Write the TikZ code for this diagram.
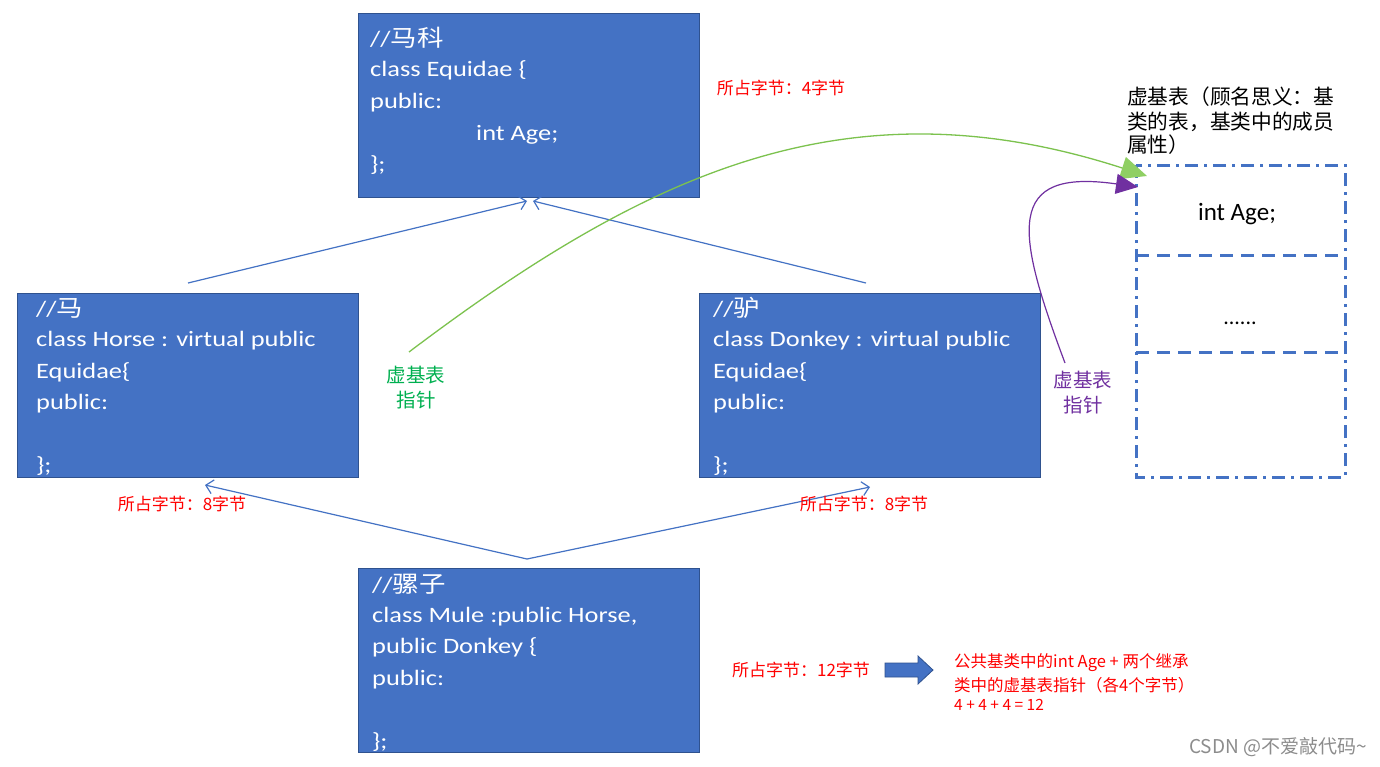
\documentclass[tikz,border=0pt]{standalone}
\usepackage{fontspec}
\setmainfont{Carlito}
\newfontfamily\cjk{Noto Sans CJK SC}
\newfontfamily\bx{Carlito}[FakeStretch=1.2]
\newfontfamily\bxc{Noto Sans CJK SC}[FakeStretch=1.15]
\usetikzlibrary{arrows.meta}
\definecolor{boxblue}{HTML}{4472C4}
\definecolor{boxedge}{HTML}{2F528F}
\definecolor{lblred}{HTML}{FF0000}
\definecolor{lblgreen}{HTML}{00B050}
\definecolor{crvgreen}{HTML}{7CC24E}
\definecolor{headgreen}{HTML}{8FCF63}
\definecolor{lblpurple}{HTML}{7030A0}
\definecolor{wmgray}{HTML}{8C8C8C}
\tikzset{
  classbox/.style={draw=boxedge, line width=1pt, fill=boxblue},
  code/.style={anchor=base west, inner sep=0pt, text=white, font=\bx\fontsize{22}{22}\selectfont},
  inherit/.style={draw=boxblue, line width=1.2pt, -{Straight Barb[length=7pt,width=14pt,line width=1.2pt]}},
  redlbl/.style={inner sep=0pt, text=lblred, font=\cjk\fontsize{17}{17}\selectfont},
  redsmall/.style={anchor=west, inner sep=0pt, text=lblred, font=\cjk\fontsize{16.5}{16.5}\selectfont},
  ptrlbl/.style={inner sep=0pt, font=\cjk\fontsize{19.5}{25}\selectfont},
  titlelbl/.style={anchor=base west, inner sep=0pt, text=black, font=\cjk\fontsize{20.7}{20.7}\selectfont},
  tabouter/.style={draw=boxblue, line width=3pt, dash pattern=on 13pt off 6pt on 3pt off 6pt},
  tabinner/.style={draw=boxblue, line width=3pt, dash pattern=on 13pt off 8pt},
}
\begin{document}
\begin{tikzpicture}[x=1pt,y=-1pt]
\useasboundingbox (0,0) rectangle (1380,766);
\fill[white] (0,0) rectangle (1380,766);

% class boxes
\draw[classbox] (358,13) rectangle (699,197);
\draw[classbox] (17,293) rectangle (358,477);
\draw[classbox] (699,293) rectangle (1040,477);
\draw[classbox] (358,568) rectangle (699,752);

% Equidae text
\node[code] (e1) at (370,46) {//{\bxc\fontsize{23}{23}\selectfont 马科}};
\node[code] (e2) at (370,76) {class Equidae \{};
\node[code] (e3) at (370,108) {public:};
\node[code] (e4) at (476,140) {int Age;};
\node[code] (e5) at (370,171) {\};};

% Horse text
\node[code] (h1) at (36,316) {//{\bxc\fontsize{23}{23}\selectfont 马}};
\node[code] (h2) at (36,346) {class Horse : virtual public};
\node[code] (h3) at (36,378) {Equidae\{};
\node[code] (h4) at (36,409) {public:};
\node[code] (h5) at (36,472) {\};};

% Donkey text
\node[code] (d1) at (713,316) {//{\bxc\fontsize{23}{23}\selectfont 驴}};
\node[code] (d2) at (713,346) {class Donkey : virtual public};
\node[code] (d3) at (713,378) {Equidae\{};
\node[code] (d4) at (713,409) {public:};
\node[code] (d5) at (713,472) {\};};

% Mule text
\node[code] (m1) at (372,592) {//{\bxc\fontsize{23}{23}\selectfont 骡子}};
\node[code] (m2) at (372,622) {class Mule :public Horse,};
\node[code] (m3) at (372,653) {public Donkey \{};
\node[code] (m4) at (372,685) {public:};
\node[code] (m5) at (372,748) {\};};

% inheritance arrows
\coordinate (hstart) at (188,283);
\coordinate (dstart) at (866,283);
\coordinate (eqtipl) at (527,201);
\coordinate (eqtipr) at (533,201);
\coordinate (mtop) at (527,559);
\coordinate (htip) at (205,485);
\coordinate (dtip) at (870,487);
\draw[inherit] (hstart) -- (eqtipl);
\draw[inherit] (dstart) -- (eqtipr);
\draw[inherit] (mtop) -- (htip);
\draw[inherit] (mtop) -- (dtip);

% byte labels
\node[redlbl] (b4) at (781,88) {所占字节：4字节};
\node[redlbl] (b8h) at (182,504) {所占字节：8字节};
\node[redlbl] (b8d) at (864,504) {所占字节：8字节};
\node[redlbl] (b12) at (801,670) {所占字节：12字节};

% block arrow
\draw[classbox, line width=0.8pt] (885,663) -- (918,663) -- (918,656) -- (933,670) -- (918,684) -- (918,677) -- (885,677) -- cycle;

% explanation
\node[redsmall] (x1) at (954,663) {公共基类中的int Age + 两个继承};
\node[redsmall] (x2) at (954,685) {类中的虚基表指针（各4个字节）};
\node[redsmall, font=\cjk\fontsize{15.5}{15.5}\selectfont] (x3) at (954,705) {4 + 4 + 4 = 12};

% virtual base table
\draw[tabouter] (1136,165) rectangle (1345,477);
\draw[tabinner] (1136,255) -- (1345,255);
\draw[tabinner] (1136,352) -- (1345,352);
\node[inner sep=0pt, font=\fontsize{25}{25}\selectfont] (tage) at (1237,214) {int Age;};
\node[anchor=base, inner sep=0pt, font=\fontsize{22}{22}\selectfont] (tdots) at (1240,324) {......};
\coordinate (tblg) at (1147,176);
\coordinate (tblp) at (1138,187);

% title
\node[titlelbl] (t1) at (1127,104) {虚基表（顾名思义：基};
\node[titlelbl] (t2) at (1127,129) {类的表，基类中的成员};
\node[titlelbl] (t3) at (1127,152) {属性）};

% pointer labels
\node[ptrlbl, text=lblgreen, align=center] (gl) at (416,388) {虚基表\\指针};
\node[ptrlbl, text=lblpurple, align=center] (pl) at (1083,393) {虚基表\\指针};
\coordinate (gstart) at (409,352);
\coordinate (pstart) at (1065,363);

\draw[draw=crvgreen, line width=1.3pt, -{Triangle[length=26pt,width=23pt,fill=headgreen,color=headgreen]}]
  (gstart) .. controls (650,170) and (850,80) .. (tblg);
\draw[draw=lblpurple, line width=1.2pt, -{Triangle[length=22pt,width=20pt,fill=lblpurple,color=lblpurple]}]
  (pstart) .. controls (1015,230) and (1005,168) .. (tblp);

% watermark
\node[anchor=east, inner sep=0pt, text=wmgray, font=\cjk\fontsize{19}{19}\selectfont] (wm) at (1367,747) {CSDN @不爱敲代码\textasciitilde};
\end{tikzpicture}
\end{document}
